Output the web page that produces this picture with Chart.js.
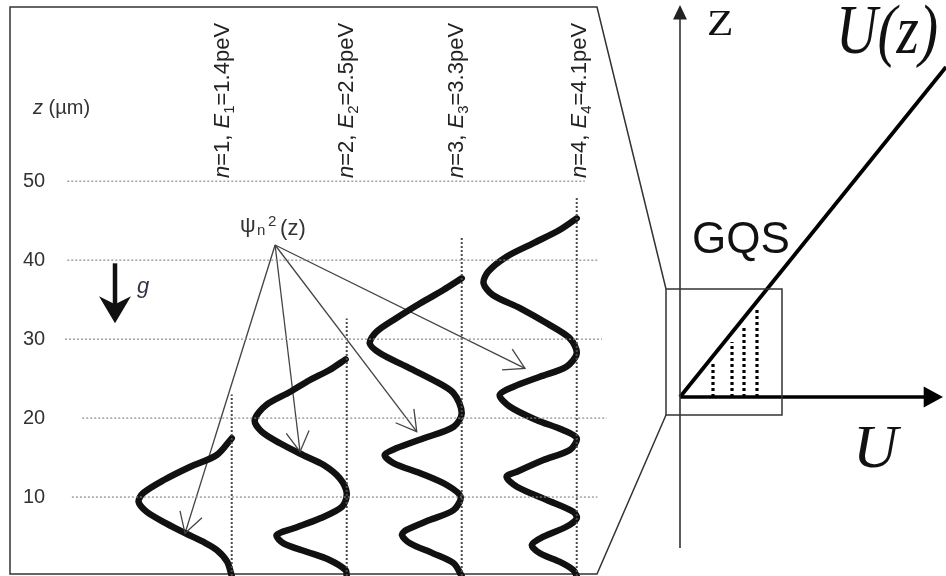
<!DOCTYPE html>
<html>
<head>
<meta charset="utf-8">
<script src="https://cdn.jsdelivr.net/npm/chart.js@4.4.1/dist/chart.umd.min.js"></script>
<style>
  html, body { margin: 0; padding: 0; background: #fff; }
  canvas { display: block; }
</style>
</head>
<body>
<canvas id="chart" width="946" height="576"></canvas>
<script>
// ---- left panel: psi_n^2(z) for the first four gravitational states ----
const levels = [1, 2, 3, 4];
const energies = ['1.4', '2.5', '3.3', '4.1'];   // peV
const zTicks = [10, 20, 30, 40, 50];               // µm
const gridStart = [-0.39, -0.30, -0.45, -0.43, -0.43];
const gridEnd = [4.18, 4.26, 4.22, 4.18, 4.07];
const levelLineTop = [23.0, 32.6, 42.8, 47.9];     // top of dotted baseline, µm

// z (µm) and psi^2 (arb. units, drawn to the left of each baseline)
const z1 = [17.44, 15.32, 13.84, 12.16, 10.51, 9.41, 8.14, 6.67, 5.32, 4.34, 3.29, 1.81, 0];
const psi1 = [0, 0.13, 0.36, 0.59, 0.77, 0.81, 0.74, 0.57, 0.39, 0.25, 0.13, 0.04, 0];
const z2 = [27.44, 26.09, 24.82, 23.34, 21.66, 19.76, 18.28, 16.81, 15.32, 14.06, 12.37, 10.47, 8.78, 7.31, 6.04, 5.19, 4.14, 3.08, 2.03, 0.76, 0];
const psi2 = [0.01, 0.15, 0.32, 0.49, 0.70, 0.80, 0.74, 0.58, 0.38, 0.20, 0.06, 0, 0.04, 0.23, 0.46, 0.61, 0.55, 0.35, 0.15, 0.01, 0];
const z3 = [37.70, 36.22, 34.54, 32.64, 30.94, 29.47, 28.20, 26.51, 24.82, 23.14, 20.61, 18.91, 17.44, 16.17, 15.32, 14.27, 13.01, 11.52, 10.04, 8.36, 7.09, 5.83, 5.19, 4.14, 2.87, 1.61, 0];
const psi3 = [0, 0.16, 0.36, 0.57, 0.74, 0.80, 0.71, 0.48, 0.25, 0.07, 0, 0.07, 0.33, 0.57, 0.67, 0.59, 0.36, 0.13, 0.01, 0.07, 0.28, 0.48, 0.52, 0.45, 0.25, 0.07, 0];
const z4 = [45.30, 43.82, 42.13, 40.44, 38.54, 37.07, 35.59, 33.90, 32.00, 30.10, 28.20, 26.51, 25.24, 23.97, 22.92, 21.44, 19.76, 18.49, 17.44, 15.96, 14.69, 13.21, 12.58, 11.31, 9.63, 8.14, 7.31, 6.24, 4.98, 3.93, 2.87, 1.81, 0.76, 0];
const psi4 = [0, 0.15, 0.38, 0.61, 0.77, 0.81, 0.73, 0.49, 0.26, 0.06, 0, 0.09, 0.32, 0.55, 0.67, 0.58, 0.35, 0.12, 0, 0.06, 0.29, 0.52, 0.61, 0.52, 0.26, 0.03, 0, 0.09, 0.29, 0.39, 0.32, 0.15, 0.03, 0];
const zs = [z1, z2, z3, z4];
const psis = [psi1, psi2, psi3, psi4];

// pointer lines from the psi label to each curve
const labelApex = { x: 1.377, y: 41.92 };
const arrowTipX = [0.594, 1.594, 2.609, 3.55];
const arrowTipZ = [5.41, 15.74, 18.28, 26.30];

// ---- right panel: U(z) = mgz sketch (arb. units) ----
const uzLineU = [0, 26.6];
const uzLineZ = [0, 33.0];
const levelU = [3.3, 5.2, 6.4, 7.7];
const levelTopZ = [3.5, 5.5, 7.2, 8.8];
const boxU = [-1.4, 10.2, 10.2, -1.4, -1.4];
const boxZ = [10.8, 10.8, -1.8, -1.8, 10.8];
const outlineU = [-1.4, -8.3, -67, -67, -8.3, -1.4];
const outlineZ = [10.8, 39.0, 39.0, -17.7, -17.7, -1.8];

const pts = (xs, ys) => xs.map((x, i) => ({ x: x, y: ys[i] }));
const datasets = [];

zTicks.forEach((z, i) => {
  datasets.push({
    data: [{ x: gridStart[i], y: z }, { x: gridEnd[i], y: z }],
    borderColor: '#8a8a8a', borderWidth: 1.2, borderDash: [2, 2]
  });
});
levels.forEach((n, i) => {
  datasets.push({
    data: [{ x: n, y: 0 }, { x: n, y: levelLineTop[i] }],
    borderColor: '#4a4a4a', borderWidth: 2, borderDash: [2, 2]
  });
});
levels.forEach((n, i) => {
  datasets.push({
    data: zs[i].map((z, k) => ({ x: n - psis[i][k], y: z })),
    borderColor: '#111', borderWidth: 6.5, tension: 0.3,
    borderCapStyle: 'round', borderJoinStyle: 'round'
  });
});
levels.forEach((n, i) => {
  datasets.push({
    data: [labelApex, { x: arrowTipX[i], y: arrowTipZ[i] }],
    borderColor: '#444', borderWidth: 1.3
  });
});

// schematic
datasets.push({ data: pts(outlineU, outlineZ), xAxisID: 'x2', yAxisID: 'y2', borderColor: '#333', borderWidth: 1.5 });
datasets.push({ data: pts(boxU, boxZ), xAxisID: 'x2', yAxisID: 'y2', borderColor: '#333', borderWidth: 1.5 });
datasets.push({ data: [{ x: 0, y: -15.1 }, { x: 0, y: 38 }], xAxisID: 'x2', yAxisID: 'y2', borderColor: '#333', borderWidth: 1.6 });
datasets.push({ data: [{ x: 0, y: 0 }, { x: 24.5, y: 0 }], xAxisID: 'x2', yAxisID: 'y2', borderColor: '#000', borderWidth: 3.5 });
datasets.push({ data: pts(uzLineU, uzLineZ), xAxisID: 'x2', yAxisID: 'y2', borderColor: '#000', borderWidth: 3.8 });
levelU.forEach((u, i) => {
  datasets.push({
    data: [{ x: u, y: 0 }, { x: u, y: levelTopZ[i] }],
    xAxisID: 'x2', yAxisID: 'y2', borderColor: '#000', borderWidth: 3.2, borderDash: [3, 3]
  });
});

const SANS = '"Liberation Sans", Arial, sans-serif';
const SERIF = '"Liberation Serif", "Times New Roman", serif';

function drawRich(ctx, parts, x, y, size) {
  let cx = x;
  parts.forEach(p => {
    const small = p.sub || p.sup;
    const fs = small ? size * 0.68 : size;
    ctx.font = (p.it ? 'italic ' : '') + fs + 'px ' + SANS;
    const dy = p.sub ? size * 0.22 : (p.sup ? -size * 0.42 : 0);
    ctx.fillText(p.t, cx, y + dy);
    cx += ctx.measureText(p.t).width;
  });
}

function arrowHead(ctx, tip, from, len, half, filled) {
  const a = Math.atan2(from.y - tip.y, from.x - tip.x);
  ctx.beginPath();
  ctx.moveTo(tip.x + len * Math.cos(a - half), tip.y + len * Math.sin(a - half));
  ctx.lineTo(tip.x, tip.y);
  ctx.lineTo(tip.x + len * Math.cos(a + half), tip.y + len * Math.sin(a + half));
  if (filled) { ctx.closePath(); ctx.fill(); } else { ctx.stroke(); }
}

const annotate = {
  id: 'annotate',
  afterDatasetsDraw(chart) {
    const { ctx } = chart;
    const { x, y, x2, y2 } = chart.scales;
    const P = (a, b) => ({ x: x.getPixelForValue(a), y: y.getPixelForValue(b) });
    const Q = (a, b) => ({ x: x2.getPixelForValue(a), y: y2.getPixelForValue(b) });
    ctx.save();

    // tick labels
    ctx.fillStyle = '#333';
    ctx.font = '20px ' + SANS;
    ctx.textBaseline = 'middle';
    zTicks.forEach(z => ctx.fillText(String(z), 23, y.getPixelForValue(z)));
    ctx.textBaseline = 'alphabetic';
    drawRich(ctx, [{ t: 'z', it: true }, { t: ' (µm)' }], 33, 114, 20);

    // rotated level labels
    const labelX = [0.977, 2.055, 3.011, 4.081];
    ctx.fillStyle = '#222';
    levels.forEach((n, i) => {
      const p = P(labelX[i], 50.4);
      ctx.save();
      ctx.translate(p.x, p.y);
      ctx.rotate(-Math.PI / 2);
      drawRich(ctx, [{ t: 'n', it: true }, { t: '=' + n + ', ' }, { t: 'E', it: true },
        { t: String(n), sub: true }, { t: '=' + energies[i] + 'peV' }], 0, 0, 22);
      ctx.restore();
    });

    // psi label
    const ap = P(labelApex.x, labelApex.y);
    ctx.fillStyle = '#333';
    ctx.font = '22px ' + SANS;
    ctx.fillText('ψ', ap.x - 35, ap.y - 13);
    ctx.font = '15px ' + SANS;
    ctx.fillText('n', ap.x - 18, ap.y - 10);
    ctx.fillText('2', ap.x - 7, ap.y - 19);
    ctx.font = '22px ' + SANS;
    ctx.fillText('(z)', ap.x + 5, ap.y - 10);

    // arrowheads of pointer lines
    ctx.strokeStyle = '#444';
    ctx.lineWidth = 1.3;
    levels.forEach((n, i) => {
      arrowHead(ctx, P(arrowTipX[i], arrowTipZ[i]), ap, 23, Math.PI / 6, false);
    });

    // gravity arrow
    const gTop = P(-0.015, 39.6), gTip = P(-0.015, 32.0);
    ctx.strokeStyle = '#111';
    ctx.fillStyle = '#111';
    ctx.lineWidth = 4.5;
    ctx.beginPath();
    ctx.moveTo(gTop.x, gTop.y);
    ctx.lineTo(gTop.x, gTip.y - 18);
    ctx.stroke();
    ctx.beginPath();
    ctx.moveTo(gTip.x, gTip.y);
    ctx.lineTo(gTip.x - 16, gTip.y - 27);
    ctx.lineTo(gTip.x, gTip.y - 19);
    ctx.lineTo(gTip.x + 16, gTip.y - 27);
    ctx.closePath();
    ctx.fill();
    ctx.fillStyle = '#334';
    ctx.font = 'italic 22px ' + SANS;
    ctx.fillText('g', gTop.x + 22, gTop.y + 30);

    // schematic arrowheads
    ctx.fillStyle = '#222';
    const zTip = Q(0, 39.2);
    arrowHead(ctx, zTip, Q(0, 0), 16, 0.45, true);
    ctx.fillStyle = '#000';
    const uTip = Q(26.3, 0);
    arrowHead(ctx, uTip, Q(0, 0), 22, 0.5, true);

    // schematic text
    ctx.fillStyle = '#111';
    let t = Q(2.7, 36.2);
    ctx.save();
    ctx.translate(t.x, t.y);
    ctx.scale(1.2, 1);
    ctx.font = '36px ' + SERIF;
    ctx.fillText('Z', 0, 0);
    ctx.restore();

    t = Q(15.6, 34.4);
    ctx.save();
    ctx.translate(t.x, t.y);
    ctx.scale(0.82, 1);
    ctx.font = 'italic 70px ' + SERIF;
    ctx.fillText('U(z)', 0, 0);
    ctx.restore();

    t = Q(1.2, 14.4);
    ctx.font = '44px ' + SANS;
    ctx.fillText('GQS', t.x, t.y);

    t = Q(17.3, -7.0);
    ctx.font = 'italic 62px ' + SERIF;
    ctx.fillText('U', t.x, t.y);

    ctx.restore();
  }
};

new Chart(document.getElementById('chart'), {
  type: 'scatter',
  data: { datasets: datasets.map(d => Object.assign({ showLine: true, pointRadius: 0, fill: false }, d)) },
  options: {
    responsive: false,
    animation: false,
    layout: { padding: 0 },
    plugins: { legend: { display: false }, tooltip: { enabled: false } },
    scales: {
      x: { type: 'linear', min: -1.015, max: 7.211, display: false },
      y: { type: 'linear', min: 0, max: 72.95, display: false },
      x2: { type: 'linear', min: -68, max: 26.6, display: false },
      y2: { type: 'linear', min: -17.9, max: 39.7, display: false }
    }
  },
  plugins: [annotate]
});
</script>
</body>
</html>
